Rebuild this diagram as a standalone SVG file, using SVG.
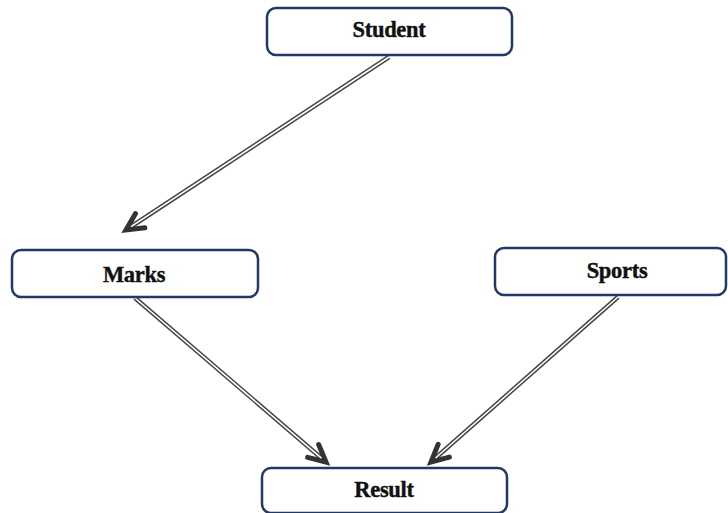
<svg xmlns="http://www.w3.org/2000/svg" width="728" height="513" viewBox="0 0 728 513">
<style>
.box{fill:#fff;stroke:#1f3a68;stroke-width:2.5}
.lbl{font-family:"Liberation Serif",serif;font-weight:bold;font-size:22.5px;fill:#111;stroke:#111;stroke-width:0.4;text-anchor:middle;letter-spacing:-0.3px}
.outer{fill:none;stroke:#444;stroke-width:4.5}
.inner{fill:none;stroke:#fff;stroke-width:1.6}
</style>
<defs>
<marker id="ah" markerUnits="userSpaceOnUse" markerWidth="30" markerHeight="30" refX="0" refY="0" viewBox="-20 -15 25 30" orient="auto" overflow="visible">
<path d="M-17,-8.5 L0,0 L-17,8.5" fill="none" stroke="#333" stroke-width="5" stroke-linejoin="miter" stroke-linecap="round"/>
</marker>
</defs>
<rect width="728" height="513" fill="#fff"/>
<g id="connectors">
<path class="outer" d="M389,57 L126,230" marker-end="url(#ah)"/>
<path class="inner" d="M389,57 L131,226.7"/>
<path class="outer" d="M135,298 L326,462" marker-end="url(#ah)"/>
<path class="inner" d="M135,298 L321.4,458.1"/>
<path class="outer" d="M618,297 L431,462" marker-end="url(#ah)"/>
<path class="inner" d="M618,297 L435.5,458"/>
</g>
<g id="student">
<rect class="box" x="267" y="8" width="245" height="47" rx="9"/>
<text class="lbl" x="389" y="37">Student</text>
</g>
<g id="marks">
<rect class="box" x="12" y="250" width="246" height="47" rx="9"/>
<text class="lbl" x="134" y="282">Marks</text>
</g>
<g id="sports">
<rect class="box" x="495" y="248" width="231" height="47" rx="9"/>
<text class="lbl" x="617" y="278">Sports</text>
</g>
<g id="result">
<rect class="box" x="262" y="468" width="245" height="45" rx="9"/>
<text class="lbl" x="384" y="497">Result</text>
</g>
</svg>
